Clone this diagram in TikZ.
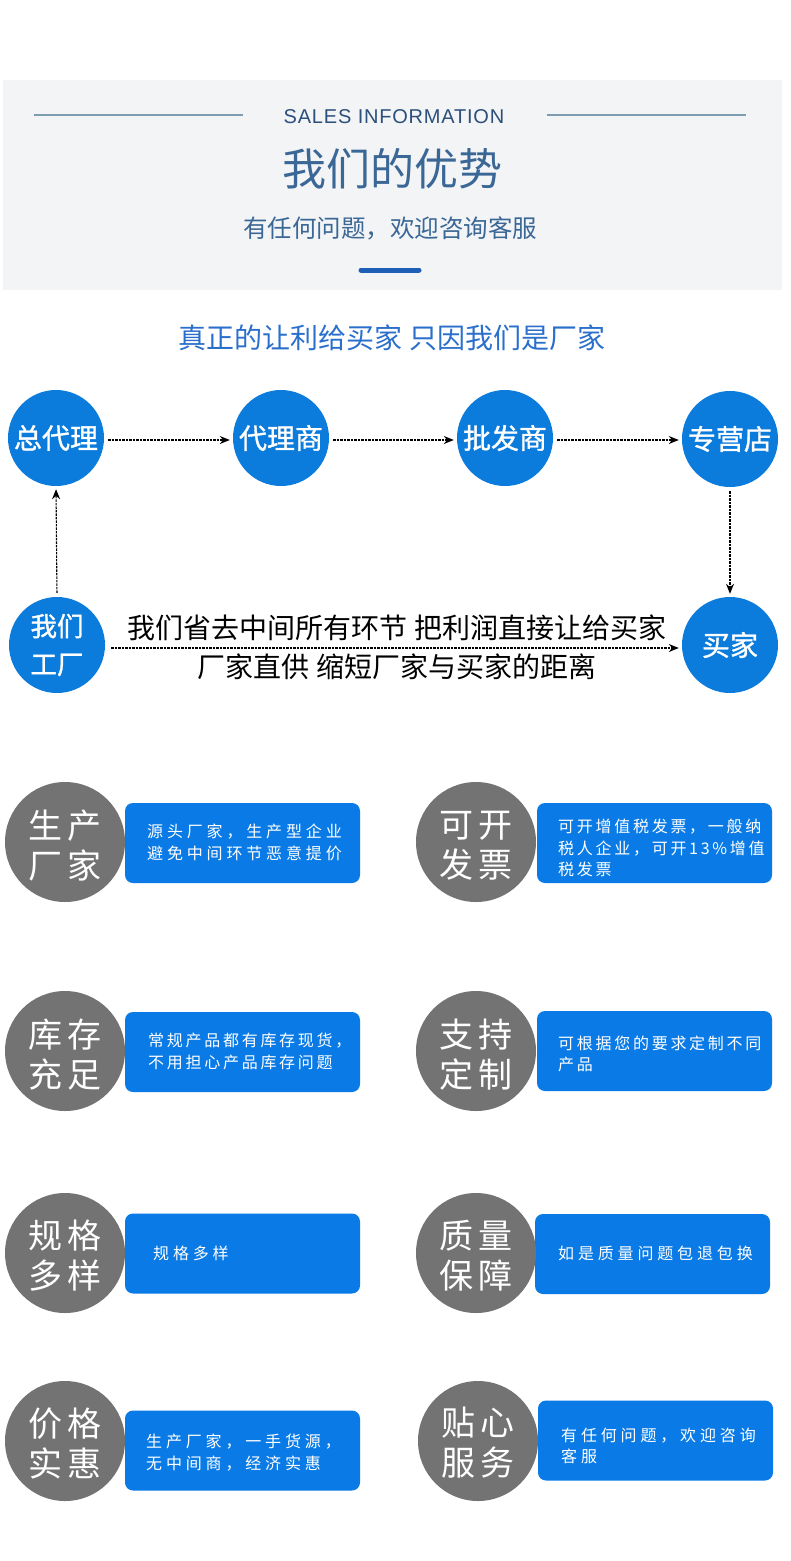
\documentclass[tikz,border=0pt]{standalone}
\usepackage{fontspec}
\setmainfont{Noto Sans CJK SC}
\newfontfamily\latinfont[LetterSpace=4]{Liberation Sans}
\newfontfamily\boxfontwide[LetterSpace=24]{Noto Sans CJK SC}
\newfontfamily\boxfontnarrow[LetterSpace=17]{Noto Sans CJK SC}
\newfontfamily\circfont[LetterSpace=16]{Noto Sans CJK SC}
\newfontfamily\boldcjk[FakeBold=1.2]{Noto Sans CJK SC}
\usetikzlibrary{arrows.meta}
\definecolor{bandgray}{HTML}{F3F4F5}
\definecolor{rulecol}{HTML}{7E9CB0}
\definecolor{headblue}{HTML}{2C4F7C}
\definecolor{titleblue}{HTML}{3A6796}
\definecolor{barblue}{HTML}{1E5FB8}
\definecolor{sloganblue}{HTML}{2A6FCC}
\definecolor{circblue}{HTML}{0B7BDC}
\definecolor{boxblue}{HTML}{0A7BE6}
\definecolor{circgray}{HTML}{737373}
\tikzset{
  flowcirc/.style={circle, fill=circblue, minimum size=96, inner sep=0, text=white,
    align=center, font={\boldcjk\fontsize{28}{38}\selectfont}},
  graycirc/.style={circle, fill=circgray, minimum size=120, inner sep=0},
  circtext/.style={text=white, inner sep=0, align=center,
    font={\circfont\fontsize{34}{40}\selectfont}},
  infobox/.style={rounded corners=8, fill=boxblue, minimum width=235, minimum height=80, inner sep=0},
  boxtext/.style={anchor=west, text=white, align=left, inner sep=0,
    font={\boxfontwide\fontsize{16}{21.5}\selectfont}},
  boxtextn/.style={boxtext, font={\boxfontnarrow\fontsize{16}{21.5}\selectfont}},
  flow/.style={draw=black, line width=1.1, dash pattern=on 2.5pt off 1pt,
    -{Stealth[length=10pt,width=8pt]}, shorten <=4pt, shorten >=3pt},
  flowtext/.style={text=black, inner sep=0, font={\fontsize{28}{32}\selectfont}}
}
\begin{document}
\begin{tikzpicture}[x=1pt,y=-1pt]
\useasboundingbox (0,0) rectangle (790,1561);
\fill[white] (0,0) rectangle (790,1561);
% header band
\fill[bandgray] (3,80) rectangle (782,290);
\draw[rulecol, line width=1.8] (34,115) -- (243,115);
\draw[rulecol, line width=1.8] (547,115) -- (746,115);
\node[text=headblue, inner sep=0, font={\latinfont\fontsize{20}{24}\selectfont}] (sales) at (394,117) {SALES INFORMATION};
\node[text=titleblue, inner sep=0, font={\fontsize{44}{50}\selectfont}] (title) at (392,169) {我们的优势};
\node[text=titleblue, inner sep=0, font={\fontsize{24.5}{28}\selectfont}] (sub) at (390,228) {有任何问题，欢迎咨询客服};
\draw[barblue, line width=5, line cap=round] (361,270) -- (419,270);
% slogan
\node[text=sloganblue, inner sep=0, font={\fontsize{28}{32}\selectfont}] (slogan) at (392,338) {真正的让利给买家 只因我们是厂家};
% flow circles
\node[flowcirc] (zdl) at (56,438) {总代理};
\node[flowcirc] (dls) at (281,438) {代理商};
\node[flowcirc] (pfs) at (505,438) {批发商};
\node[flowcirc] (zyd) at (730,439) {专营店};
\node[flowcirc, font={\boldcjk\fontsize{26.5}{38}\selectfont}] (wmgc) at (57,645) {我们\\工厂};
\node[flowcirc] (mj) at (730,645) {买家};
\draw[flow] ([yshift=-2pt]zdl.east) -- ([yshift=-2pt]dls.west);
\draw[flow] ([yshift=-2pt]dls.east) -- ([yshift=-2pt]pfs.west);
\draw[flow] ([yshift=-2pt]pfs.east) -- ([yshift=-1pt]zyd.west);
\draw[flow] (wmgc.north) -- (zdl.south);
\draw[flow] (zyd.south) -- (mj.north);
\draw[flow, shorten <=6pt] ([yshift=-3pt]wmgc.east) -- ([yshift=-3pt]mj.west);
\node[flowtext] (t1) at (397,628) {我们省去中间所有环节 把利润直接让给买家};
\node[flowtext] (t2) at (397,667) {厂家直供 缩短厂家与买家的距离};
% advantage rows
\node[infobox] (b1l) at (242.5,843) {};
\node[infobox] (b1r) at (654.5,843) {};
\node[infobox] (b2l) at (242.5,1052) {};
\node[infobox] (b2r) at (654.5,1051) {};
\node[infobox] (b3l) at (242.5,1253.5) {};
\node[infobox] (b3r) at (652.5,1254) {};
\node[infobox] (b4l) at (242.5,1450.5) {};
\node[infobox] (b4r) at (655.5,1440.5) {};
\node[graycirc] (c1l) at (65,842) {};
\node[graycirc] (c1r) at (476,842) {};
\node[graycirc] (c2l) at (65,1051) {};
\node[graycirc] (c2r) at (476,1051) {};
\node[graycirc] (c3l) at (65,1253) {};
\node[graycirc] (c3r) at (476,1253) {};
\node[graycirc] (c4l) at (65,1441) {};
\node[graycirc] (c4r) at (478,1441) {};
\node[circtext] (c1lt) at ([yshift=-4pt]c1l.center) {生产\\厂家};
\node[circtext] (c1rt) at ([yshift=-4pt]c1r.center) {可开\\发票};
\node[circtext] (c2lt) at ([yshift=-4pt]c2l.center) {库存\\充足};
\node[circtext] (c2rt) at ([yshift=-4pt]c2r.center) {支持\\定制};
\node[circtext] (c3lt) at ([yshift=-3pt]c3l.center) {规格\\多样};
\node[circtext] (c3rt) at ([yshift=-3pt]c3r.center) {质量\\保障};
\node[circtext] (c4lt) at ([yshift=-2pt]c4l.center) {价格\\实惠};
\node[circtext] (c4rt) at ([yshift=-2pt]c4r.center) {贴心\\服务};
\node[boxtext] (x1l) at (147,842.5) {源头厂家，生产型企业\\避免中间环节恶意提价};
\node[boxtextn] (x1r) at (558,848) {可开增值税发票，一般纳\\税人企业，可开13\%增值\\税发票};
\node[boxtextn] (x2l) at (148,1051.5) {常规产品都有库存现货，\\不用担心产品库存问题};
\node[boxtextn] (x2r) at (558,1054) {可根据您的要求定制不同\\产品};
\node[boxtext] (x3l) at (153,1253) {规格多样};
\node[boxtext] (x3r) at (558,1253) {如是质量问题包退包换};
\node[boxtext] (x4l) at (146,1452.5) {生产厂家，一手货源，\\无中间商，经济实惠};
\node[boxtext] (x4r) at (561,1446) {有任何问题，欢迎咨询\\客服};
\end{tikzpicture}
\end{document}
